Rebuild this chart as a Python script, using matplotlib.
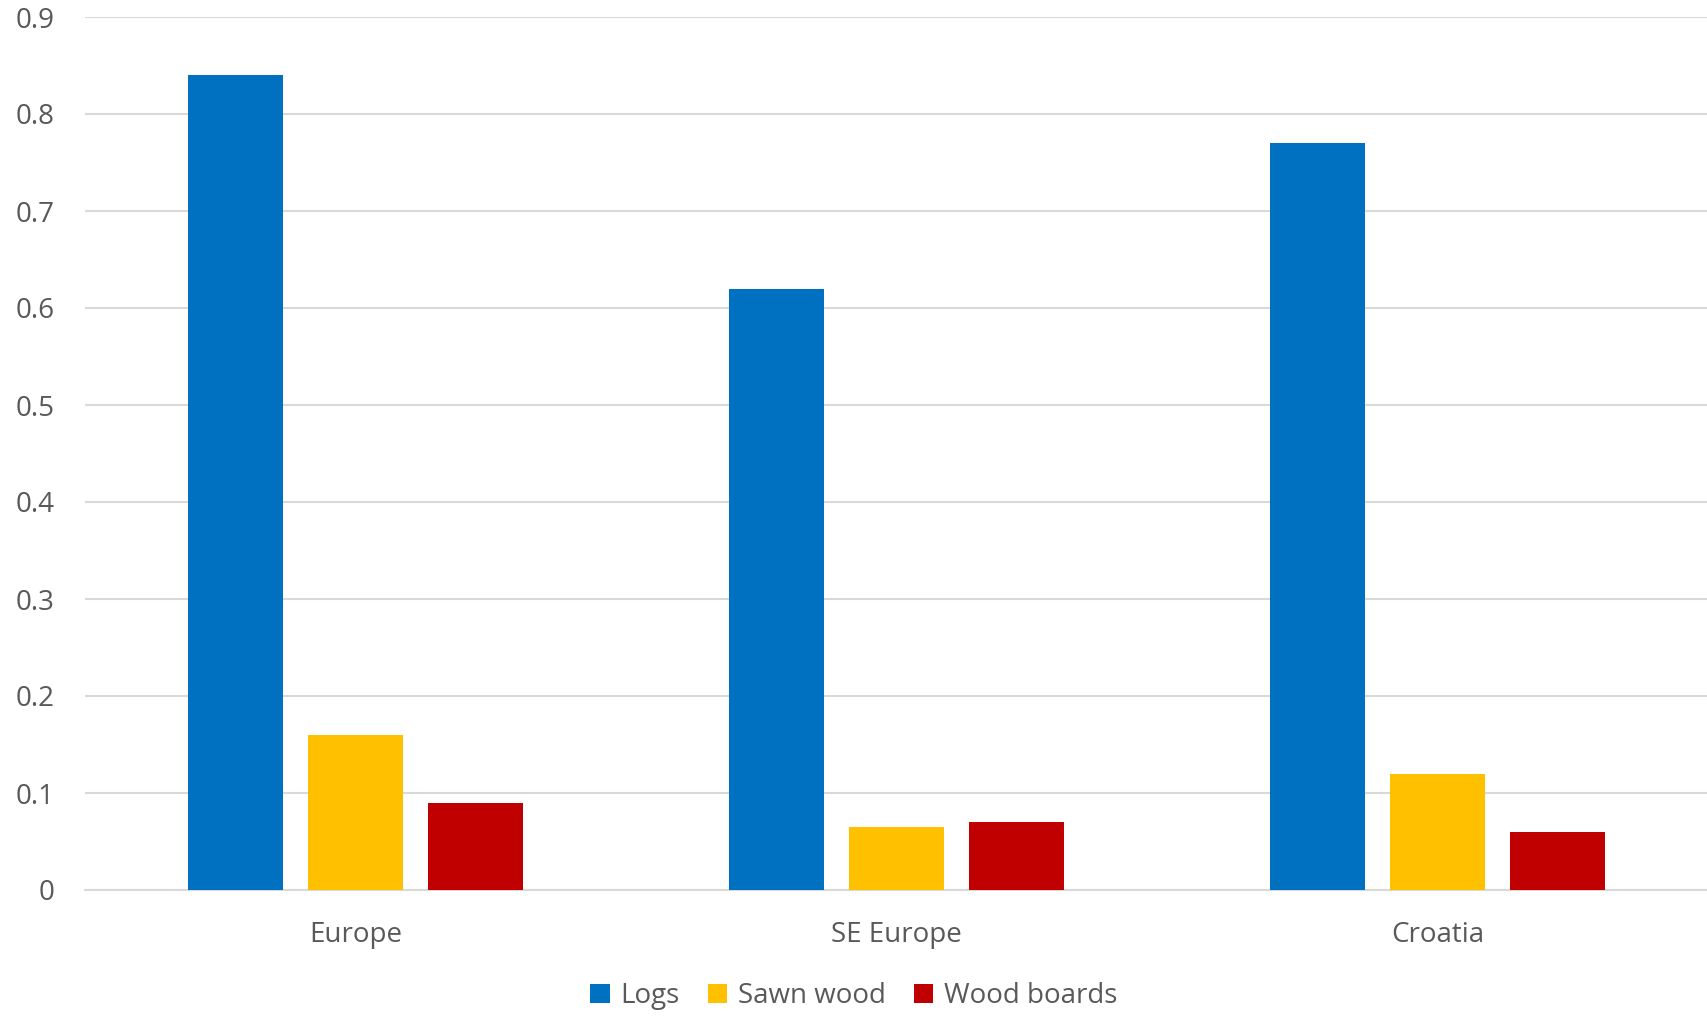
import numpy as np
import matplotlib.pyplot as plt

plt.rcParams['font.family'] = ['Open Sans', 'DejaVu Sans']

regions = ['Europe', 'SE Europe', 'Croatia']
logs = [0.84, 0.62, 0.77]
sawn_wood = [0.16, 0.065, 0.12]
wood_boards = [0.09, 0.07, 0.06]
yticks = [0, 0.1, 0.2, 0.3, 0.4, 0.5, 0.6, 0.7, 0.8, 0.9]
ytick_labels = ['0', '0.1', '0.2', '0.3', '0.4', '0.5', '0.6', '0.7', '0.8', '0.9']

text_color = '#595959'
grid_color = '#d9d9d9'

fig = plt.figure(figsize=(17.08, 10.16), dpi=100)
ax = fig.add_axes([85/1708, 1 - 890/1016, (1708 - 85)/1708, (890 - 17)/1016])

x = np.arange(len(regions))
w = 0.176
step = 0.222
ax.bar(x - step, logs, w, color='#0070c0', label='Logs', zorder=3)
ax.bar(x, sawn_wood, w, color='#ffc000', label='Sawn wood', zorder=3)
ax.bar(x + step, wood_boards, w, color='#c00000', label='Wood boards', zorder=3)

ax.set_xlim(-0.5, 2.5)
ax.set_ylim(0, 0.9)
ax.set_yticks(yticks)
ax.set_yticklabels(ytick_labels)
ax.set_xticks(x)
ax.set_xticklabels(regions)
ax.grid(axis='y', color=grid_color, linewidth=1.5, zorder=0)
ax.set_axisbelow(True)
for s in ['top', 'right', 'left']:
    ax.spines[s].set_visible(False)
ax.spines['bottom'].set_color(grid_color)
ax.spines['bottom'].set_linewidth(1.5)
ax.tick_params(axis='both', length=0, labelsize=20, colors=text_color)
ax.tick_params(axis='y', pad=22)
ax.tick_params(axis='x', pad=22)

fig.legend(loc='center', bbox_to_anchor=(0.5, 1 - 996/1016), ncol=3, frameon=False,
           fontsize=20, labelcolor=text_color, handlelength=0.7, handleheight=0.7,
           handletextpad=0.4, columnspacing=1.0)

plt.savefig('out.png')
